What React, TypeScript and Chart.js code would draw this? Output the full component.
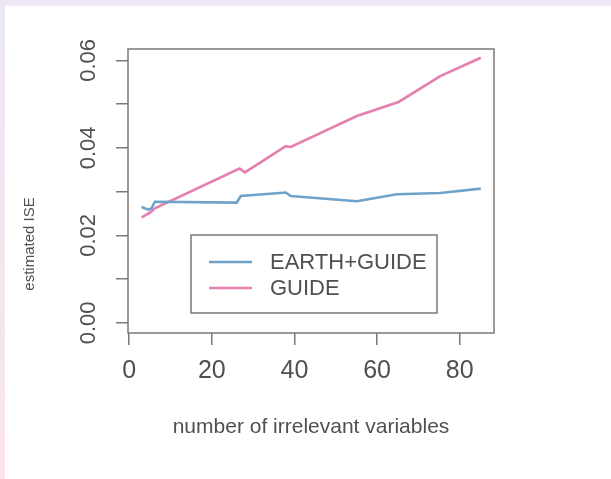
import React, { useEffect, useRef } from "react";
import { Chart, registerables } from "chart.js";

Chart.register(...registerables);

// ---- data ----
const earthX = [3, 4.6, 5.4, 6.2, 26, 27, 37.9, 39.1, 55.1, 64.8, 75.3, 85.1];
const earthY = [0.0265, 0.0259, 0.0262, 0.0277, 0.0275, 0.029, 0.0298, 0.029, 0.0278, 0.0294, 0.0297, 0.0307];
const guideX = [3, 5, 6.2, 26.7, 28, 37.9, 39.1, 55.1, 65.2, 75.3, 85.1];
const guideY = [0.0241, 0.0252, 0.0262, 0.0353, 0.0344, 0.0404, 0.0402, 0.0473, 0.0505, 0.0564, 0.0606];
const seriesNames = ["EARTH+GUIDE", "GUIDE"];
const yLabelValues = [0, 0.02, 0.04, 0.06];
const xTitle = "number of irrelevant variables";
const yTitle = "estimated ISE";

const BLUE = "#6fa2c9";
const PINK = "#e47fb0";
const TEXT = "#505050";
const AXIS = "#7a7a7a";

const toPoints = (xs: number[], ys: number[]) => xs.map((x, i) => ({ x, y: ys[i] }));

const decorPlugin = {
  id: "decor",
  beforeDraw(chart: any) {
    const { ctx, width, height } = chart;
    ctx.save();
    ctx.fillStyle = "#ffffff";
    ctx.fillRect(0, 0, width, height);
    ctx.fillStyle = "#ede6f3";
    ctx.fillRect(0, 0, width, 6);
    const g = ctx.createLinearGradient(0, 0, 0, height);
    g.addColorStop(0, "#ece6f3");
    g.addColorStop(1, "#fbe5ec");
    ctx.fillStyle = g;
    ctx.fillRect(0, 0, 5, height);
    ctx.restore();
  },
  afterDraw(chart: any) {
    const { ctx, chartArea } = chart;
    const yScale = chart.scales.y;
    const { left, top, right, bottom } = chartArea;
    ctx.save();
    // plot box
    ctx.strokeStyle = AXIS;
    ctx.lineWidth = 1.5;
    ctx.strokeRect(left, top, right - left, bottom - top);

    // rotated y tick labels
    ctx.fillStyle = TEXT;
    ctx.font = "22px 'Liberation Sans', Arial, sans-serif";
    ctx.textAlign = "center";
    ctx.textBaseline = "middle";
    yLabelValues.forEach((v) => {
      const py = yScale.getPixelForValue(v);
      ctx.save();
      ctx.translate(left - 39, py);
      ctx.rotate(-Math.PI / 2);
      ctx.fillText(v.toFixed(2), 0, 0);
      ctx.restore();
    });

    // y title
    ctx.font = "15px 'Liberation Sans', Arial, sans-serif";
    ctx.save();
    ctx.translate(left - 98, top + 195);
    ctx.rotate(-Math.PI / 2);
    ctx.fillText(yTitle, 0, 0);
    ctx.restore();

    // legend
    const bx = left + 63;
    const by = top + 186;
    const bw = 246;
    const bh = 78;
    ctx.fillStyle = "#ffffff";
    ctx.fillRect(bx, by, bw, bh);
    ctx.strokeStyle = AXIS;
    ctx.lineWidth = 1.5;
    ctx.strokeRect(bx, by, bw, bh);
    const colors = [BLUE, PINK];
    seriesNames.forEach((name, i) => {
      const ly = by + 27 + i * 26;
      ctx.strokeStyle = colors[i];
      ctx.lineWidth = 2.5;
      ctx.beginPath();
      ctx.moveTo(bx + 18, ly);
      ctx.lineTo(bx + 61, ly);
      ctx.stroke();
      ctx.fillStyle = TEXT;
      ctx.font = "22px 'Liberation Sans', Arial, sans-serif";
      ctx.textAlign = "left";
      ctx.textBaseline = "middle";
      ctx.fillText(name, bx + 79, ly + 1);
    });
    ctx.restore();
  },
};

export default function App() {
  const ref = useRef<HTMLCanvasElement | null>(null);

  useEffect(() => {
    if (!ref.current) return;
    const chart = new Chart(ref.current, {
      type: "line",
      data: {
        datasets: [
          {
            label: seriesNames[0],
            data: toPoints(earthX, earthY),
            borderColor: BLUE,
            borderWidth: 2.6,
            pointRadius: 0,
            tension: 0,
            fill: false,
          },
          {
            label: seriesNames[1],
            data: toPoints(guideX, guideY),
            borderColor: PINK,
            borderWidth: 2.6,
            pointRadius: 0,
            tension: 0,
            fill: false,
          },
        ],
      },
      options: {
        animation: false,
        responsive: false,
        events: [],
        layout: { padding: { top: 49, right: 117, bottom: 0, left: 0 } },
        plugins: { legend: { display: false }, tooltip: { enabled: false } },
        scales: {
          x: {
            type: "linear",
            min: -0.3,
            max: 88.3,
            border: { display: false },
            grid: { drawOnChartArea: false, drawTicks: true, tickLength: 12, color: AXIS, lineWidth: 1.5 },
            ticks: {
              stepSize: 20,
              includeBounds: false,
              padding: 11,
              color: TEXT,
              font: { family: "'Liberation Sans', Arial, sans-serif", size: 25 },
              maxRotation: 0,
              callback: (v: any) => String(v),
            },
            title: {
              display: true,
              text: xTitle,
              color: TEXT,
              font: { family: "'Liberation Sans', Arial, sans-serif", size: 21 },
              padding: { top: 0, bottom: 39 },
            },
            afterFit: (s: any) => {
              s.height = 146;
            },
          },
          y: {
            type: "linear",
            min: -0.0023,
            max: 0.0626,
            border: { display: false },
            grid: { drawOnChartArea: false, drawTicks: true, tickLength: 12, color: AXIS, lineWidth: 1.5 },
            ticks: { stepSize: 0.01, includeBounds: false, display: false },
            afterFit: (s: any) => {
              s.width = 128;
            },
          },
        },
      },
      plugins: [decorPlugin],
    });
    return () => chart.destroy();
  }, []);

  return (
    <div style={{ position: "absolute", left: 0, top: 0, width: 611, height: 479 }}>
      <canvas ref={ref} width={611} height={479} style={{ width: 611, height: 479 }} />
    </div>
  );
}
